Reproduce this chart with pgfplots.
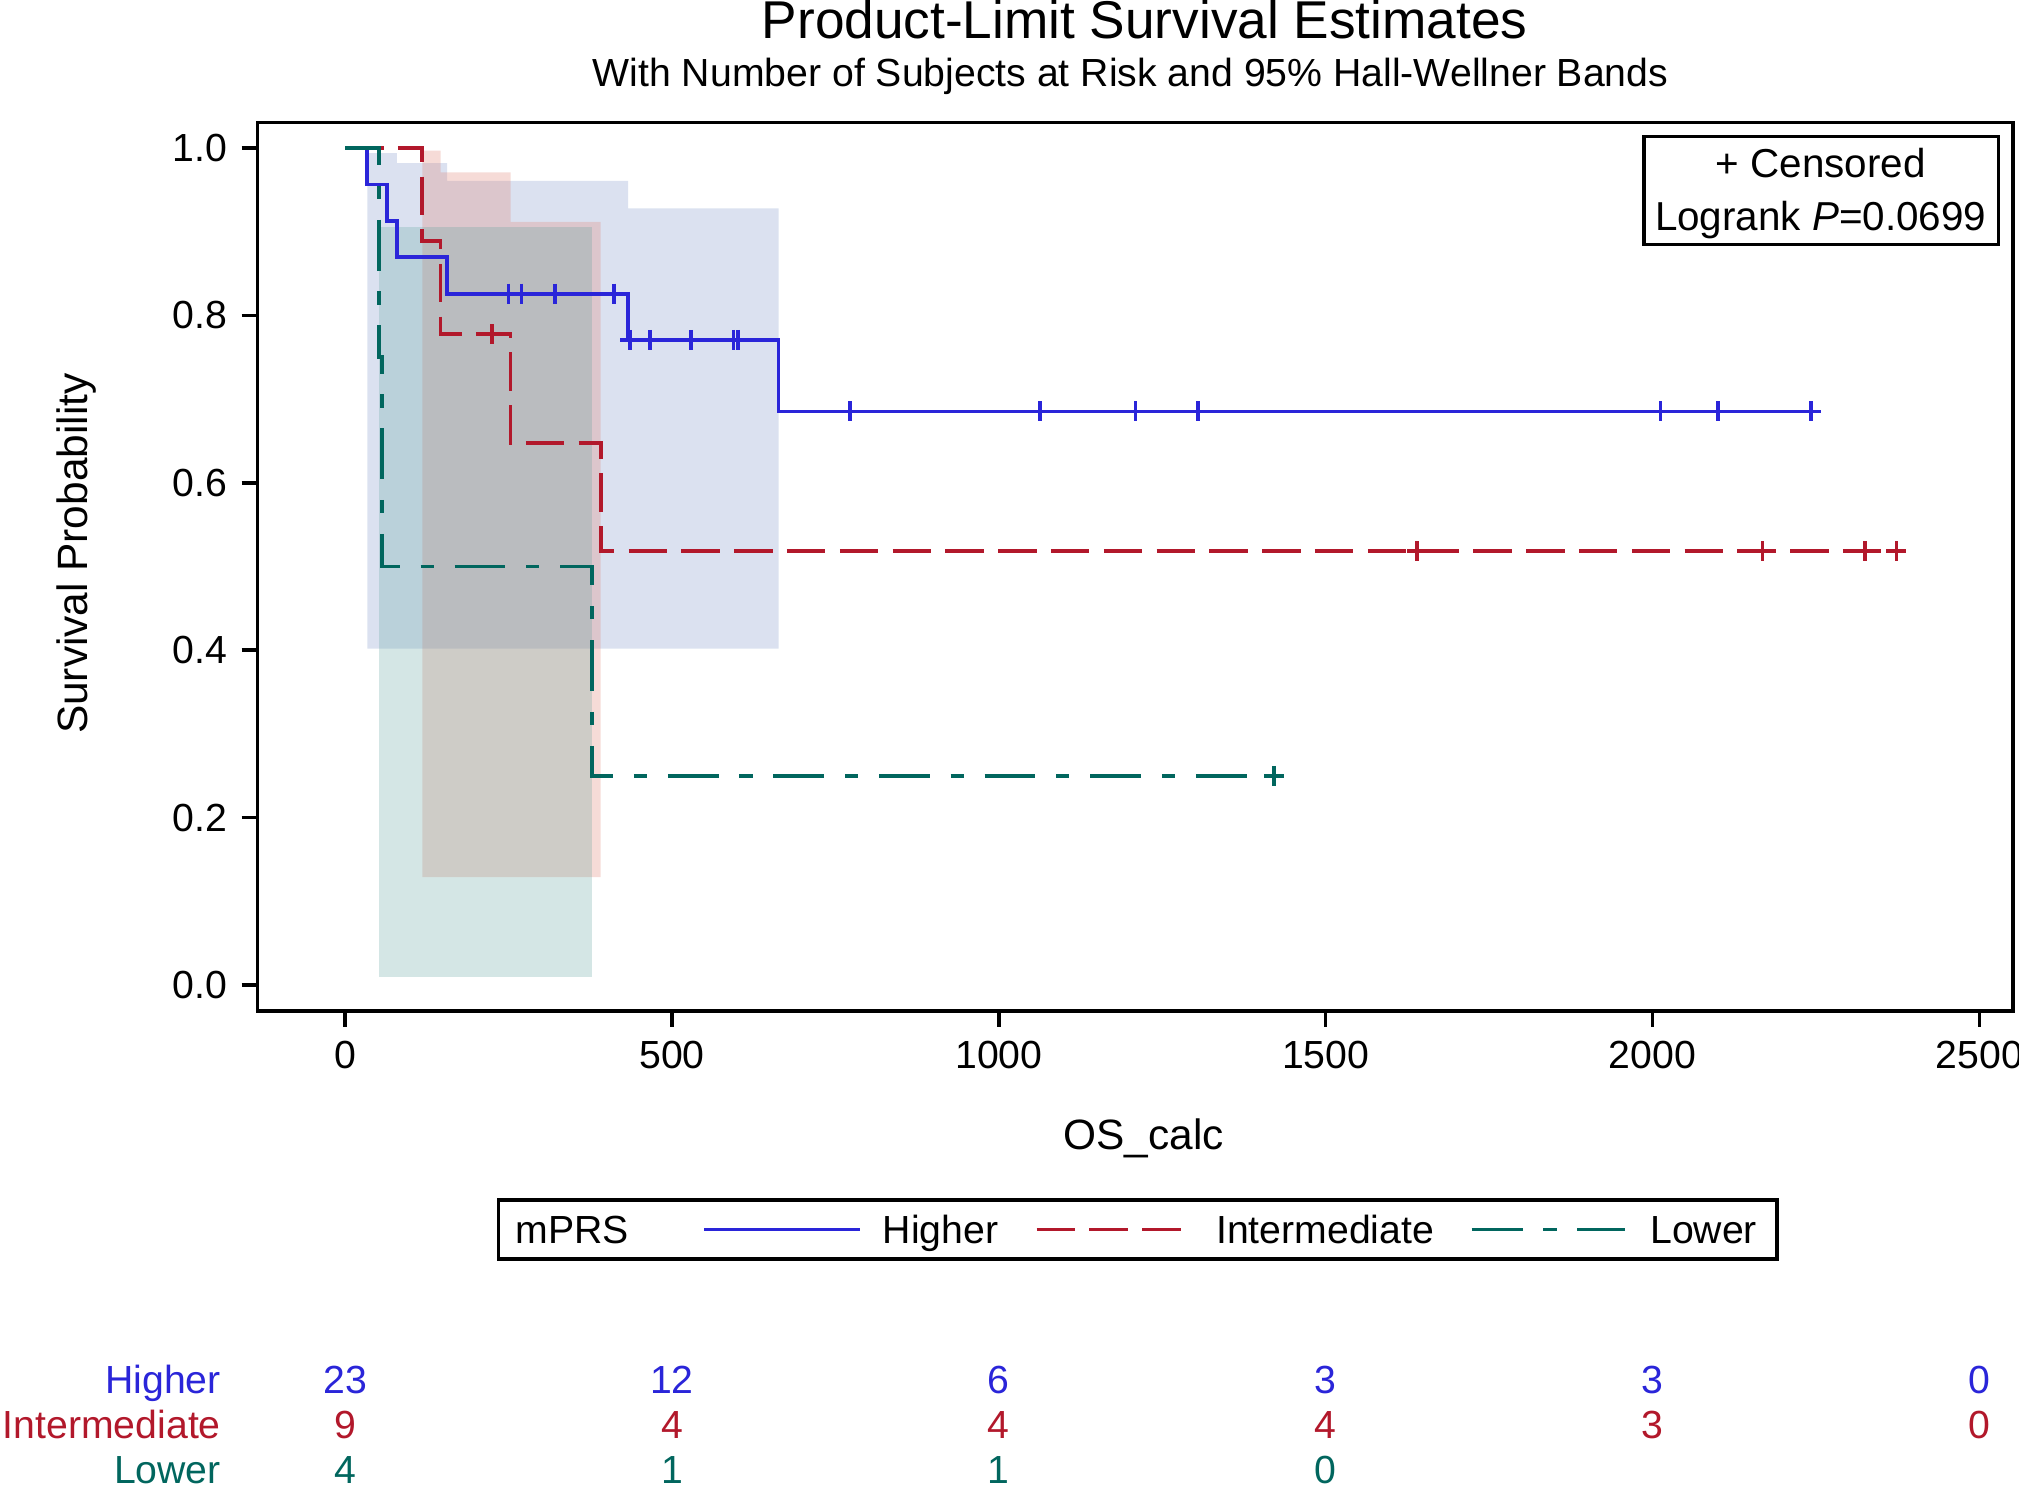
\documentclass[border=0pt]{standalone}
\usepackage{fontspec}
\setmainfont{Liberation Sans}
\usepackage{pgfplots}
\pgfplotsset{compat=1.18}
\definecolor{cH}{HTML}{2A25D9}
\definecolor{cI}{HTML}{B2182B}
\definecolor{cL}{HTML}{01665E}
\definecolor{bH}{HTML}{7C95CA}
\definecolor{bI}{HTML}{DE7E6F}
\definecolor{bL}{HTML}{66A5A0}
\newcommand{\fsT}{\fontsize{13.3bp}{15bp}\selectfont}
\newcommand{\fsS}{\fontsize{9.8bp}{11bp}\selectfont}
\newcommand{\fsL}{\fontsize{10.6bp}{12bp}\selectfont}
\newcommand{\fsB}{\fontsize{10.1bp}{12bp}\selectfont}
\tikzset{
  dI/.style={dash pattern=on 9.6bp off 3.6bp},
  dL/.style={dash pattern=on 12.7bp off 5.2bp on 3.3bp off 5.2bp},
}
\begin{document}
\begin{tikzpicture}
\useasboundingbox (0,0) rectangle (504.75bp,373.5bp);
\begin{scope}[yshift=373.5bp, x=0.3219bp, y=-0.3219bp]
  \node[anchor=base, inner sep=0pt] at (889,30) {\fsT Product-Limit Survival Estimates};
  \node[anchor=base, inner sep=0pt] at (878,67) {\fsS With Number of Subjects at Risk and 95\% Hall-Wellner Bands};
  % legend
  \draw[line width=0.9bp] (387,932) rectangle (1380,978);
  \node[anchor=base west, inner sep=0pt] at (400,966) {\fsS mPRS};
  \draw[cH, line width=0.9bp] (547,955) -- (668,955);
  \node[anchor=base west, inner sep=0pt] at (685,966) {\fsS Higher};
  \draw[cI, line width=0.9bp, dI] (805,955) -- (918,955);
  \node[anchor=base west, inner sep=0pt] at (944,966) {\fsS Intermediate};
  \draw[cL, line width=0.9bp, dL] (1143,955) -- (1262,955);
  \node[anchor=base west, inner sep=0pt] at (1281,966) {\fsS Lower};
\end{scope}
\begin{axis}[
  at={(64.38bp,120.81bp)}, anchor=south west,
  scale only axis, width=438.8bp, height=222.1bp,
  xmin=-134, xmax=2551, ymin=-0.0308, ymax=1.0308,
  xtick={0,500,1000,1500,2000,2500}, ytick={0,0.2,0.4,0.6,0.8,1},
  xtick pos=bottom, ytick pos=left,
  tick align=outside, major tick length=4bp,
  axis line style={line width=0.9bp},
  every tick/.style={black, line width=0.9bp},
  tick label style={font=\fsS},
  /pgf/number format/assume math mode=true,
  xticklabel style={/pgf/number format/1000 sep={}},
  yticklabel style={/pgf/number format/.cd, fixed, fixed zerofill, precision=1},
  xlabel={OS\_calc}, ylabel={Survival Probability},
  label style={font=\fsL},
  xlabel style={at={(axis description cs:0.5048,-0.1565)}, anchor=base},
  ylabel style={at={(axis description cs:-0.1034,0.5145)}, anchor=center},
  clip=false,
]
% Hall-Wellner bands
\addplot[draw=none, fill=bH, fill opacity=0.28] coordinates {(34,0.402) (34,0.994) (79,0.994) (79,0.982) (156,0.982) (156,0.961) (433,0.961) (433,0.928) (663,0.928) (663,0.402)} -- cycle;
\addplot[draw=none, fill=bI, fill opacity=0.28] coordinates {(118,0.129) (118,0.997) (146,0.997) (146,0.971) (253,0.971) (253,0.912) (391,0.912) (391,0.129)} -- cycle;
\addplot[draw=none, fill=bL, fill opacity=0.28] coordinates {(52,0.010) (52,0.906) (378,0.906) (378,0.010)} -- cycle;
% survival curves
\addplot[cH, line width=0.95bp, const plot] coordinates {(0,1) (34,0.9565) (64,0.9130) (79,0.8696) (156,0.8261) (433,0.7710) (663,0.6853) (2242,0.6853)};
\addplot[cI, line width=0.95bp, const plot, dI] coordinates {(0,1) (118,0.8889) (146,0.7778) (253,0.6481) (391,0.5185) (2372,0.5185)};
\addplot[cL, line width=0.95bp, const plot, dL] coordinates {(0,1) (52,0.75) (56,0.5) (378,0.25) (1421,0.25)};
% censored
\addplot[cH, only marks, mark=+, mark size=2.5bp, line width=0.9bp] coordinates {(250,0.8261) (270,0.8261) (321,0.8261) (411,0.8261) (436,0.7710) (466,0.7710) (529,0.7710) (594,0.7710) (601,0.7710) (772,0.6853) (1063,0.6853) (1209,0.6853) (1305,0.6853) (2012,0.6853) (2100,0.6853) (2242,0.6853)};
\addplot[cI, only marks, mark=+, mark size=2.5bp, line width=0.9bp] coordinates {(225,0.7778) (1640,0.5185) (2168,0.5185) (2325,0.5185) (2373,0.5185)};
\addplot[cL, only marks, mark=+, mark size=2.5bp, line width=0.9bp] coordinates {(1421,0.25)};
% at-risk table
\node[anchor=base east, inner sep=0pt, text=cH, font=\fsS] at (axis cs:-189,-0.4877) {Higher};
\node[anchor=base east, inner sep=0pt, text=cI, font=\fsS] at (axis cs:-189,-0.5415) {Intermediate};
\node[anchor=base east, inner sep=0pt, text=cL, font=\fsS] at (axis cs:-189,-0.5954) {Lower};
\node[anchor=base, inner sep=0pt, text=cH, font=\fsS] at (axis cs:0,-0.4877) {23};
\node[anchor=base, inner sep=0pt, text=cH, font=\fsS] at (axis cs:500,-0.4877) {12};
\node[anchor=base, inner sep=0pt, text=cH, font=\fsS] at (axis cs:1000,-0.4877) {6};
\node[anchor=base, inner sep=0pt, text=cH, font=\fsS] at (axis cs:1500,-0.4877) {3};
\node[anchor=base, inner sep=0pt, text=cH, font=\fsS] at (axis cs:2000,-0.4877) {3};
\node[anchor=base, inner sep=0pt, text=cH, font=\fsS] at (axis cs:2500,-0.4877) {0};
\node[anchor=base, inner sep=0pt, text=cI, font=\fsS] at (axis cs:0,-0.5415) {9};
\node[anchor=base, inner sep=0pt, text=cI, font=\fsS] at (axis cs:500,-0.5415) {4};
\node[anchor=base, inner sep=0pt, text=cI, font=\fsS] at (axis cs:1000,-0.5415) {4};
\node[anchor=base, inner sep=0pt, text=cI, font=\fsS] at (axis cs:1500,-0.5415) {4};
\node[anchor=base, inner sep=0pt, text=cI, font=\fsS] at (axis cs:2000,-0.5415) {3};
\node[anchor=base, inner sep=0pt, text=cI, font=\fsS] at (axis cs:2500,-0.5415) {0};
\node[anchor=base, inner sep=0pt, text=cL, font=\fsS] at (axis cs:0,-0.5954) {4};
\node[anchor=base, inner sep=0pt, text=cL, font=\fsS] at (axis cs:500,-0.5954) {1};
\node[anchor=base, inner sep=0pt, text=cL, font=\fsS] at (axis cs:1000,-0.5954) {1};
\node[anchor=base, inner sep=0pt, text=cL, font=\fsS] at (axis cs:1500,-0.5954) {0};
\end{axis}
\begin{scope}[yshift=373.5bp, x=0.3219bp, y=-0.3219bp]
  \draw[line width=0.9bp, fill=white] (1277,106) rectangle (1552,190);
  \node[anchor=base, inner sep=0pt] at (1414,138) {\fsB + Censored};
  \node[anchor=base, inner sep=0pt] at (1414,179) {\fsB Logrank \textit{P}=0.0699};
\end{scope}
\end{tikzpicture}
\end{document}
